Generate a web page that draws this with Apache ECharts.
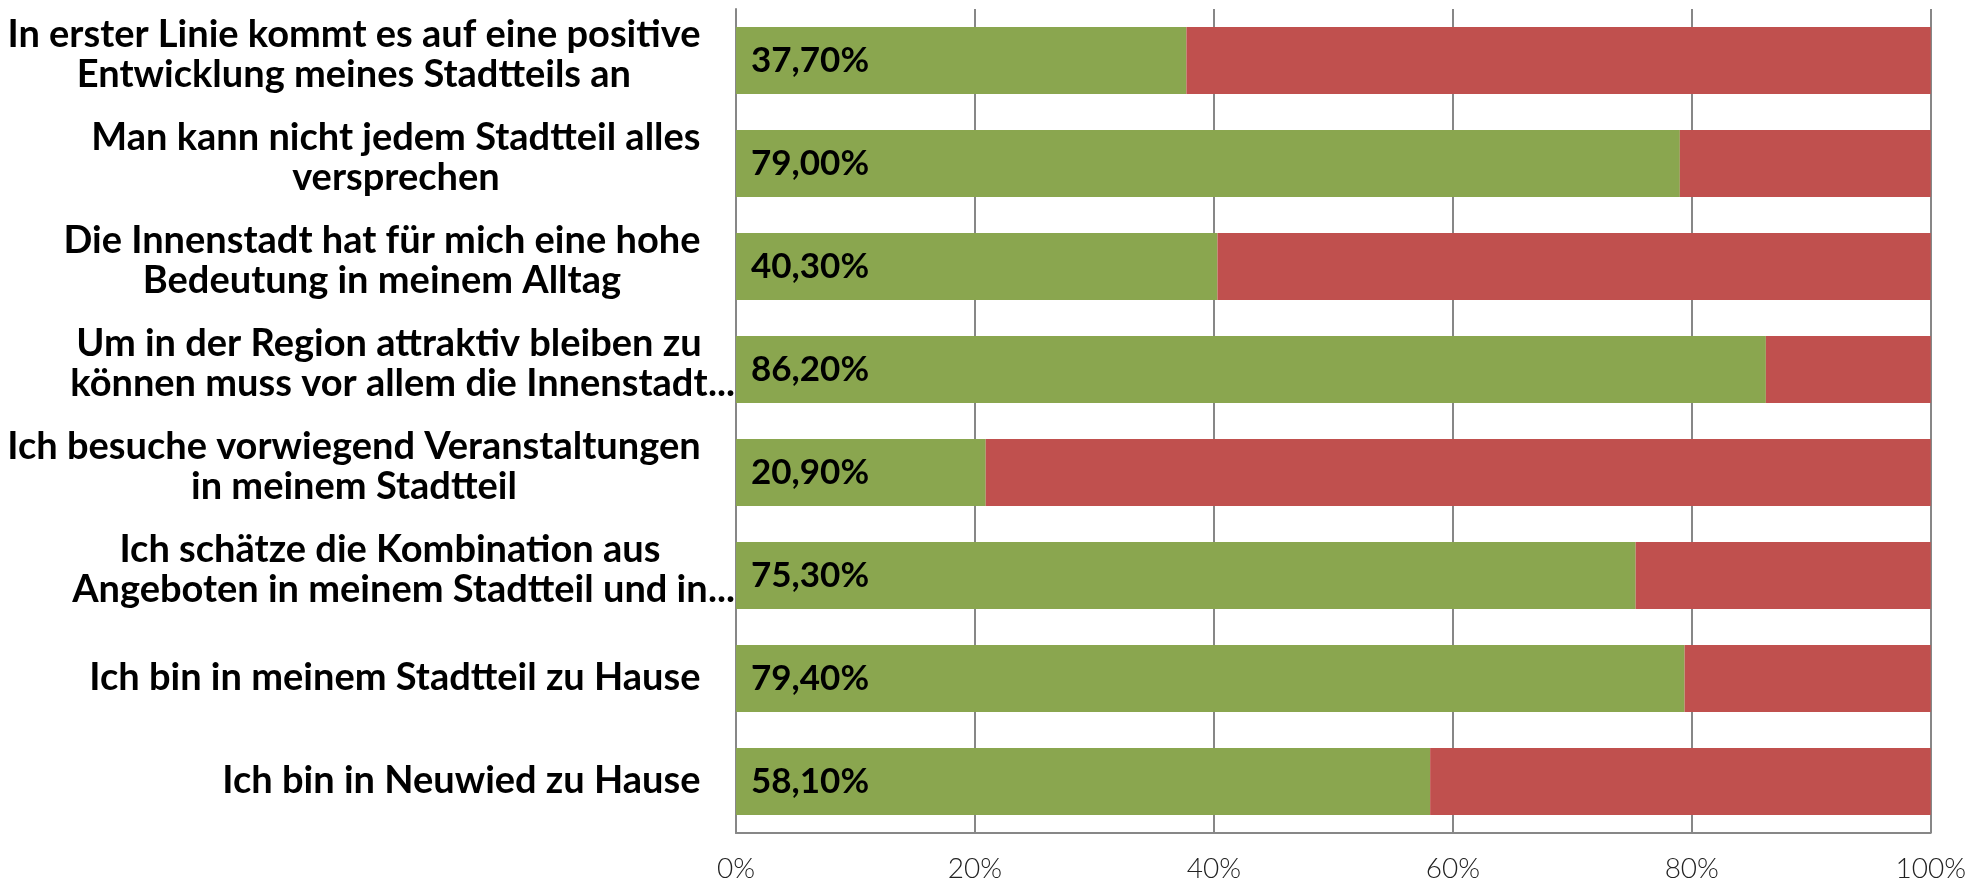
<!DOCTYPE html>
<html>
<head>
<meta charset="utf-8">
<script src="https://cdn.jsdelivr.net/npm/echarts@6/dist/echarts.min.js"></script>
<style>
  html, body { margin: 0; padding: 0; background: #fff; }
  #main { width: 1969px; height: 883px; }
</style>
</head>
<body>
<div id="main"></div>
<script>
var categories = [
	'In erster Linie kommt es auf eine positive\nEntwicklung meines Stadtteils an',
	'Man kann nicht jedem Stadtteil alles\nversprechen',
	'Die Innenstadt hat für mich eine hohe\nBedeutung in meinem Alltag',
	'Um in der Region attraktiv bleiben zu\nkönnen muss vor allem die Innenstadt...',
	'Ich besuche vorwiegend Veranstaltungen\nin meinem Stadtteil',
	'Ich schätze die Kombination aus\nAngeboten in meinem Stadtteil und in...',
	'Ich bin in meinem Stadtteil zu Hause',
	'Ich bin in Neuwied zu Hause'
];
var agree = [37.7, 79.0, 40.3, 86.2, 20.9, 75.3, 79.4, 58.1];
var disagree = [62.3, 21.0, 59.7, 13.8, 79.1, 24.7, 20.6, 41.9];
var xTicks = [0, 20, 40, 60, 80, 100];

var catSize = 38;
var myChart = echarts.init(document.getElementById('main'));

// measure each label block so its lines can be centred inside it
var ctx = document.createElement('canvas').getContext('2d');
ctx.font = 'bold ' + catSize + 'px Lato';
var dotsWidth = ctx.measureText('...').width;
var baseStyle = { fontFamily: 'Lato', fontWeight: 'bold', fontSize: catSize, lineHeight: 40, color: '#000' };
var rich = {
	s: echarts.util.extend({ width: dotsWidth + 7, align: 'left' }, baseStyle),
	d: echarts.util.extend({ width: dotsWidth, align: 'left' }, baseStyle),
	g: { fontSize: 8, lineHeight: 10 }
};
for (var i = 0; i < categories.length; i++) {
	var w = 0;
	categories[i].split('\n').forEach(function(line){
		line = line.replace(/\.\.\.$/, '');
		w = Math.max(w, ctx.measureText(line).width);
	});
	rich['b' + i] = echarts.util.extend({ width: Math.ceil(w), align: 'center' }, baseStyle);
}

function catLabel(value, index){
	var lines = value.split('\n');
	var cut = /\.\.\.$/.test(value);
	var out = lines.map(function(line){
		var tail = cut ? '{d| }' : '{s| }';
		if (/\.\.\.$/.test(line)) {
			line = line.replace(/\.\.\.$/, '');
			tail = '{d|...}';
		}
		return '{b' + index + '|' + line + '}' + tail;
	});
	// two-line labels sit a little above the bar centre
	if (lines.length > 1) out.push('{g| }');
	return out.join('\n');
}

option = {
	animation: false,
	backgroundColor: '#fff',
	grid: {
		left: 736,
		right: 38,
		top: 9,
		bottom: 50
	},
	xAxis: {
		type: 'value',
		min: 0,
		max: 100,
		interval: 20,
		axisLine: { show: true, lineStyle: { color: '#878787', width: 2 } },
		axisTick: { show: false },
		splitLine: { show: true, lineStyle: { color: '#878787', width: 2 } },
		axisLabel: {
			margin: 22,
			fontFamily: 'Lato',
			fontWeight: 300,
			fontSize: 28,
			color: '#222',
			formatter: function(v){ return xTicks.indexOf(v) >= 0 ? v + '%' : ''; }
		}
	},
	yAxis: {
		type: 'category',
		inverse: true,
		data: categories,
		axisLine: { show: true, lineStyle: { color: '#878787', width: 2 } },
		axisTick: { show: false },
		axisLabel: {
			margin: 1,
			padding: [0, 0, 2, 0],
			formatter: catLabel,
			rich: rich
		}
	},
	series: [
		{
			name: 'Ja',
			type: 'bar',
			stack: 'total',
			barCategoryGap: '35%',
			itemStyle: { color: '#8AA64F' },
			label: {
				show: true,
				position: 'insideLeft',
				distance: 15,
				fontFamily: 'Lato',
				fontWeight: 'bold',
				fontSize: 35,
				color: '#000',
				formatter: function(p){ return p.value.toFixed(2).replace('.', ',') + '%'; }
			},
			data: agree
		},
		{
			name: 'Nein',
			type: 'bar',
			stack: 'total',
			barCategoryGap: '35%',
			itemStyle: { color: '#C0504E' },
			data: disagree
		}
	]
};

myChart.setOption(option);
</script>
</body>
</html>
